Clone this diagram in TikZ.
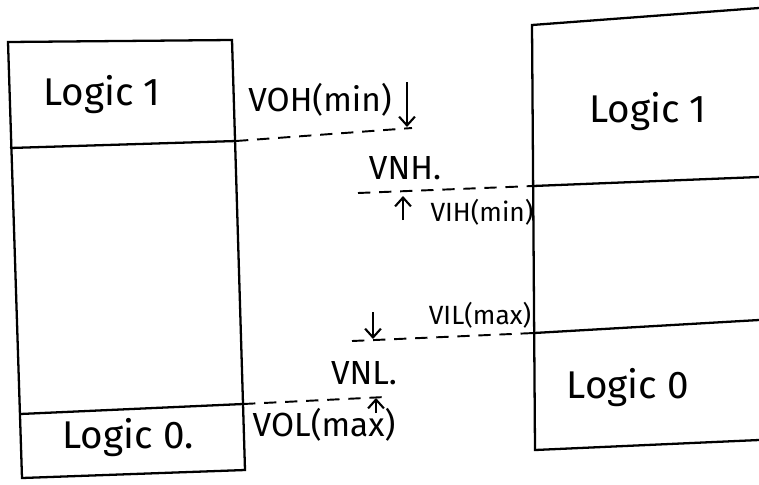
\documentclass[tikz,border=0pt]{standalone}
\usepackage{fontspec}
\setmainfont{Fira Sans}
\usetikzlibrary{arrows.meta,positioning}

\begin{document}
\begin{tikzpicture}[x=0.02cm, y=-0.02cm,
        frame/.style={draw, line width=1.3pt},
        level/.style={dashed, dash pattern=on 7pt off 5pt, line width=1.1pt},
        logic/.style={font=\fontsize{22}{26}\selectfont},
        volt/.style={font=\fontsize{19}{22}\selectfont},
        voltin/.style={font=\fontsize{15}{18}\selectfont},
        arrow/.style={->, >={Straight Barb[length=5pt,width=9pt]}, line width=1.2pt}]

        \useasboundingbox (0,0) rectangle (759,484);

        % Driver side (left)
        \coordinate (dTL) at (8,42);
        \coordinate (dTR) at (232,40);
        \coordinate (dBR) at (245,470);
        \coordinate (dBL) at (22,478);
        \draw[frame] (dTL) -- (dTR) -- (dBR) -- (dBL) -- cycle;
        \coordinate (ohL) at (10,148);
        \coordinate (ohR) at (236,141);
        \coordinate (olL) at (20,414);
        \coordinate (olR) at (243,404);
        \draw[frame] (ohL) -- (ohR);
        \draw[frame] (olL) -- (olR);
        \node[logic] (dHigh) at (102,95) {Logic 1};
        \node[logic] (dLow) at (128,438) {Logic 0.};

        % Receiver side (right)
        \coordinate (rTL) at (532,25);
        \coordinate (rTR) at (759,8);
        \coordinate (rBL) at (535,450);
        \coordinate (rBR) at (759,440);
        \draw[frame] (rTR) -- (rTL) -- (rBL) -- (rBR);
        \coordinate (ihL) at (533,186);
        \coordinate (ihR) at (759,177);
        \coordinate (ilL) at (534,333);
        \coordinate (ilR) at (759,320);
        \draw[frame] (ihL) -- (ihR);
        \draw[frame] (ilL) -- (ilR);
        \node[logic] (rHigh) at (648,112) {Logic 1};
        \node[logic] (rLow) at (628,388) {Logic 0};

        % Levels
        \coordinate (ohEnd) at (412,128);
        \coordinate (ihEnd) at (358,193);
        \coordinate (ilEnd) at (352,341);
        \coordinate (olEnd) at (385,397);
        \draw[level] (ohR) -- (ohEnd);
        \draw[level] (ihEnd) -- (ihL);
        \draw[level] (ilEnd) -- (ilL);
        \draw[level] (olR) -- (olEnd);

        % Noise margin arrows
        \coordinate (nhTop) at (407,82);
        \coordinate (nhTip) at (407,127);
        \coordinate (nhBot) at (403,220);
        \coordinate (nhTip2) at (403,196);
        \coordinate (nlTop) at (373,312);
        \coordinate (nlTip) at (373,339);
        \coordinate (nlBot) at (376,413);
        \coordinate (nlTip2) at (376,398);
        \draw[arrow] (nhTop) -- (nhTip);
        \draw[arrow] (nhBot) -- (nhTip2);
        \draw[arrow] (nlTop) -- (nlTip);
        \draw[arrow] (nlBot) -- (nlTip2);

        % Labels
        \node[volt] (voh) at (320,100) {VOH(min)};
        \node[volt] (vnh) at (405,168) {VNH.};
        \node[voltin] (vih) at (482,212) {VIH(min)};
        \node[voltin] (vil) at (480,315) {VIL(max)};
        \node[volt] (vnl) at (364,373) {VNL.};
        \node[volt] (vol) at (324,425) {VOL(max)};
    \end{tikzpicture}
\end{document}
